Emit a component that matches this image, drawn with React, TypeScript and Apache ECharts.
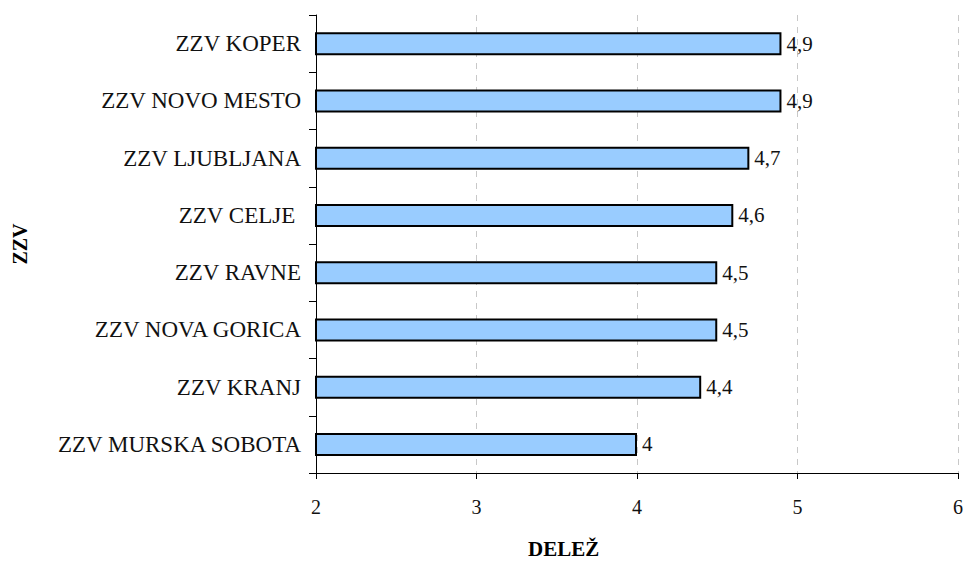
import React, { useEffect, useRef } from "react";
import * as echarts from "echarts";

const categories = [
  "ZZV MURSKA SOBOTA",
  "ZZV KRANJ",
  "ZZV NOVA GORICA",
  "ZZV RAVNE",
  "ZZV CELJE ",
  "ZZV LJUBLJANA",
  "ZZV NOVO MESTO",
  "ZZV KOPER",
];
const values = [4.0, 4.4, 4.5, 4.5, 4.6, 4.7, 4.9, 4.9];
const xTicks = { min: 2, max: 6, interval: 1 };
const xAxisTitle = "DELEŽ";
const yAxisTitle = "ZZV";

const FONT = "Liberation Serif";

export default function App() {
  const ref = useRef<HTMLDivElement>(null);
  useEffect(() => {
    document.body.style.margin = "0";
    const chart = echarts.init(ref.current!, null, { renderer: "svg" });
    chart.setOption({
      animation: false,
      backgroundColor: "#ffffff",
      grid: {
        left: 316,
        right: 9,
        top: 15,
        bottom: 88,
        containLabel: false,
        outerBoundsMode: "none",
      },
      xAxis: {
        type: "value",
        min: xTicks.min,
        max: xTicks.max,
        interval: xTicks.interval,
        axisLine: { show: true, lineStyle: { color: "#000", width: 1 } },
        axisTick: { show: true, inside: false, length: 6, lineStyle: { color: "#000" } },
        axisLabel: {
          margin: 24,
          fontFamily: FONT,
          fontSize: 20,
          color: "#111",
        },
        splitLine: { show: true, lineStyle: { color: "#c8c8c8", type: [6, 6], width: 1 } },
      },
      yAxis: {
        type: "category",
        data: categories,
        name: yAxisTitle,
        nameLocation: "middle",
        nameRotate: 90,
        nameGap: 286,
        nameTextStyle: { fontFamily: FONT, fontSize: 20, fontWeight: "bold", color: "#000" },
        axisLine: { show: true, lineStyle: { color: "#000", width: 1 } },
        axisTick: { show: true, inside: false, length: 7, lineStyle: { color: "#000" } },
        axisLabel: {
          margin: 15,
          fontFamily: FONT,
          fontSize: 23,
          color: "#111",
        },
        splitLine: { show: false },
      },
      graphic: [
        {
          type: "text",
          left: 528,
          top: 538,
          style: {
            text: xAxisTitle,
            fontFamily: FONT,
            fontSize: 21,
            fontWeight: "bold",
            fill: "#000",
          },
        },
      ],
      series: [
        {
          type: "bar",
          data: values,
          barWidth: 23,
          itemStyle: { color: "#99ccff", borderColor: "#000", borderWidth: 2 },
          label: {
            show: true,
            position: "right",
            distance: 5,
            fontFamily: FONT,
            fontSize: 21,
            color: "#111",
            formatter: (p: any) => String(p.value).replace(".", ","),
          },
        },
      ],
    });
    return () => chart.dispose();
  }, []);
  return <div ref={ref} style={{ width: 967, height: 561 }} />;
}
